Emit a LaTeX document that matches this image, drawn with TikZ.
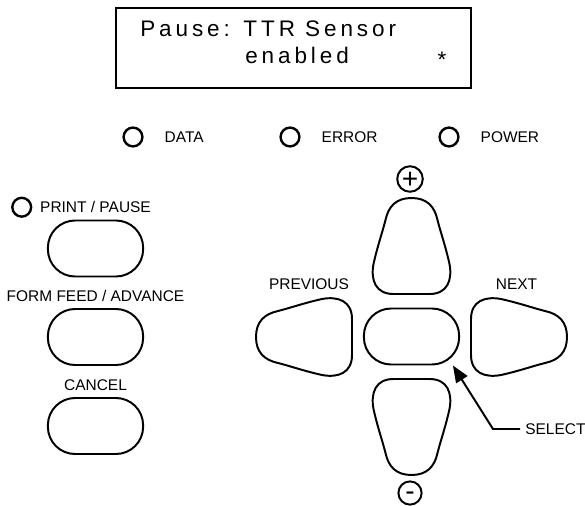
\documentclass[tikz,border=0pt]{standalone}
\usepackage{fontspec}
\setmainfont{Liberation Sans}
\newfontfamily\lcdfont[LetterSpace=17.4]{Liberation Sans}
\usetikzlibrary{positioning,arrows.meta}
\tikzset{
  keyline/.style={line width=1.4pt},
  key/.style={draw, keyline, rounded corners=0.68cm, minimum width=2.38cm, minimum height=1.4cm},
  led/.style={circle, draw, line width=1.7pt, minimum size=0.47cm, inner sep=0pt},
  sign/.style={circle, draw, keyline, minimum size=0.58cm, inner sep=0pt, font=\fontsize{20}{20}\selectfont, text depth=0pt},
  lbl/.style={font=\fontsize{11}{11}\selectfont, inner sep=0pt, text depth=0pt},
  lcd/.style={font=\lcdfont\fontsize{16}{16}\selectfont, inner sep=0pt, anchor=base west},
  screen/.style={draw, line width=1.6pt, minimum width=8.875cm, minimum height=2cm},
  arrowkey/.pic={
    \draw[keyline] (0,0) -- (18,0) .. controls (36,0) and (41,-14) .. (38,-30)
      .. controls (34,-48) and (29,-62) .. (26,-74) .. controls (23,-88) and (15,-96) .. (0,-96)
      .. controls (-15,-96) and (-23,-88) .. (-26,-74)
      .. controls (-29,-62) and (-34,-48) .. (-38,-30) .. controls (-41,-14) and (-36,0) .. (-18,0) -- cycle;
  }
}

\begin{document}
\begin{tikzpicture}[x=0.025cm, y=-0.025cm]
  \useasboundingbox (0,0) rectangle (585,506);

  % display
  \node[screen] (screen) at (293.5,48) {};
  \node[lcd] (line1) at (140,36) {Pause: TTR Sensor};
  \node[lcd] (line2) at (245,63) {enabled};
  \node[lcd, anchor=center] (star) at (442,60) {*};

  % status lights
  \node[led] (dataled)  at (133,137) {};
  \node[led] (errorled) at (290,137) {};
  \node[led] (powerled) at (449,137) {};
  \node[lbl, right=0.52cm of dataled]  (datalbl)  {DATA};
  \node[lbl, right=0.52cm of errorled] (errorlbl) {ERROR};
  \node[lbl, right=0.52cm of powerled] (powerlbl) {POWER};

  % left keys
  \node[key] (print)  at (95.5,248.5) {};
  \node[key] (feed)   at (95.5,337)   {};
  \node[key] (cancel) at (95.5,426)   {};
  \node[lbl, above=0.16cm of print]  (printlbl)  {PRINT / PAUSE};
  \node[lbl, above=0.16cm of feed]   (feedlbl)   {FORM FEED / ADVANCE};
  \node[lbl, above=0.16cm of cancel] (cancellbl) {CANCEL};
  \node[led, left=0.19cm of printlbl] (printled) {};

  % arrow keys
  \node[key] (selectkey) at (411.5,336.5) {};
  \pic at (411.5,294) {arrowkey};
  \pic[rotate=180] at (411.5,379) {arrowkey};
  \pic[rotate=90]  at (352,337) {arrowkey};
  \pic[rotate=-90] at (471,337) {arrowkey};
  \node[sign, text height=14pt] (plus)  at (410,179) {+};
  \node[sign, text height=10.9pt] (minus) at (410,493) {-};
  \node[lbl, anchor=base] (prevlbl) at (309,289) {PREVIOUS};
  \node[lbl, anchor=base] (nextlbl) at (516.5,289) {NEXT};
  \node[lbl, anchor=west] (select) at (525,429) {SELECT};

  \draw[keyline, -{Triangle[length=0.42cm, width=0.33cm]}]
    ([xshift=-0.125cm]select.west) -- ++(-27,0) -- (selectkey.-35);
\end{tikzpicture}
\end{document}
